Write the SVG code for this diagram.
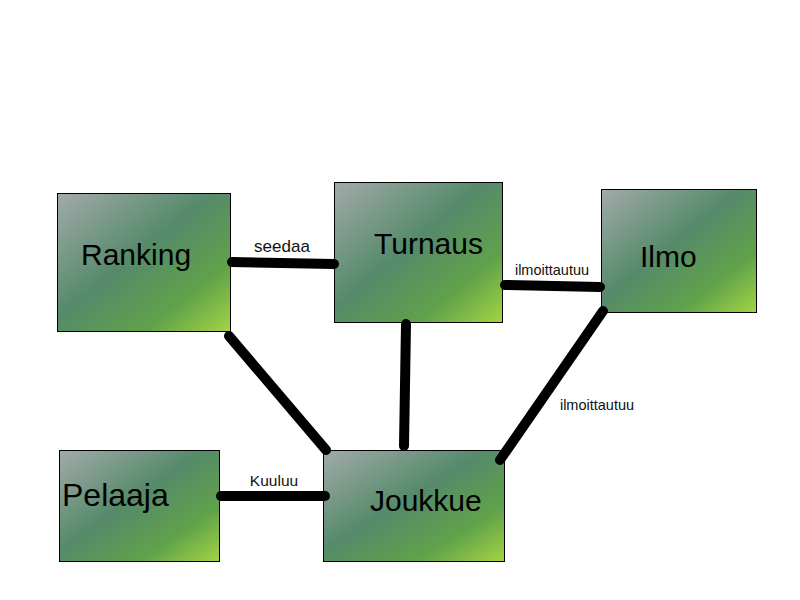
<svg xmlns="http://www.w3.org/2000/svg" width="800" height="600" viewBox="0 0 800 600">
<defs>
<linearGradient id="g" x1="0" y1="0" x2="1" y2="1">
<stop offset="0" stop-color="#a2aaaa"/>
<stop offset="0.45" stop-color="#558a6a"/>
<stop offset="0.75" stop-color="#60a24a"/>
<stop offset="1" stop-color="#a4d444"/>
</linearGradient>
</defs>
<style>
.box{fill:url(#g);stroke:#000;stroke-width:1}
.t{font-family:"Liberation Sans",Arial,sans-serif;font-size:30px;fill:#000}
.l{font-family:"Liberation Sans",Arial,sans-serif;font-size:14px;fill:#111}
.c{stroke:#000;stroke-width:10;stroke-linecap:round;fill:none}
</style>
<rect width="800" height="600" fill="#fff"/>
<g id="ranking">
<rect class="box" x="57.500" y="193.500" width="173" height="138"/>
<text class="t" x="81" y="265">Ranking</text>
</g>
<g id="turnaus">
<rect class="box" x="334.500" y="182.500" width="168" height="140"/>
<text class="t" x="374" y="254">Turnaus</text>
</g>
<g id="ilmo">
<rect class="box" x="601.500" y="189.500" width="155" height="123"/>
<text class="t" x="640" y="267">Ilmo</text>
</g>
<g id="pelaaja">
<rect class="box" x="59.500" y="450.500" width="160" height="111"/>
<text class="t" x="62" y="506" style="font-size:32px">Pelaaja</text>
</g>
<g id="joukkue">
<rect class="box" x="323.500" y="450.500" width="181" height="111"/>
<text class="t" x="370" y="511">Joukkue</text>
</g>
<g id="connectors">
<line class="c" x1="232" y1="262" x2="334" y2="264"/>
<line class="c" x1="505" y1="285" x2="600" y2="287"/>
<line class="c" x1="229" y1="336" x2="326" y2="450"/>
<line class="c" x1="406" y1="324" x2="404" y2="446"/>
<line class="c" x1="603" y1="311" x2="500" y2="460"/>
<line class="c" x1="221" y1="496" x2="325" y2="496"/>
<text class="l" x="282" y="252" text-anchor="middle" style="font-size:17px">seedaa</text>
<text class="l" x="552" y="275" text-anchor="middle" style="font-size:14.5px">ilmoittautuu</text>
<text class="l" x="597" y="410" text-anchor="middle" style="font-size:14.5px">ilmoittautuu</text>
<text class="l" x="274" y="486" text-anchor="middle" style="font-size:15.5px">Kuuluu</text>
</g>
</svg>
